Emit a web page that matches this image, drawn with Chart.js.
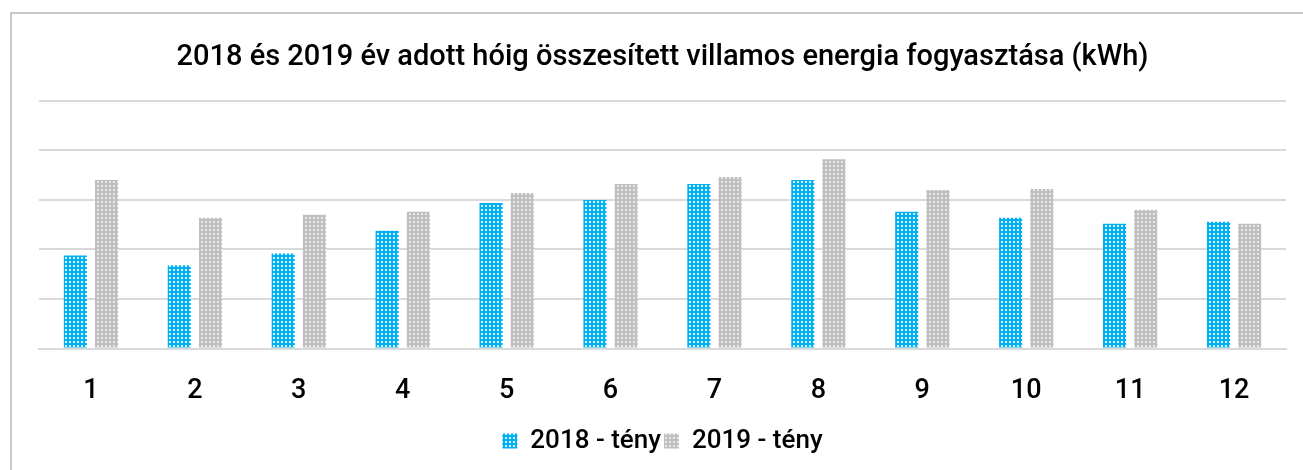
<!DOCTYPE html>
<html>
<head>
<meta charset="utf-8">
<script src="https://cdn.jsdelivr.net/npm/chart.js@4"></script>
<style>
  html, body { margin: 0; padding: 0; background: #fff; }
  body { width: 1303px; height: 470px; position: relative; overflow: hidden; }
  #frame {
    position: absolute; left: 10px; top: 12px; width: 1400px; height: 600px;
    border-left: 2px solid #c9c9c9; border-top: 2px solid #c9c9c9; box-sizing: border-box;
  }
  #wrap { position: absolute; left: 0; top: 0; width: 1303px; height: 470px; }
</style>
</head>
<body>
<div id="frame"></div>
<div id="wrap"><canvas id="chart" width="1303" height="470"></canvas></div>
<script>
// Hónapok
const months = ['1', '2', '3', '4', '5', '6', '7', '8', '9', '10', '11', '12'];
// Összesített fogyasztás (skála: rácsvonalak 50-enként)
const values2018 = [94, 84, 96, 119, 147, 150, 166, 170, 138, 132, 126, 128];
const values2019 = [170, 132, 135, 138, 157, 166, 173, 191, 160, 161, 140, 126];
const seriesNames = ['2018 - tény', '2019 - tény'];
const chartTitle = '2018 és 2019 év adott hóig összesített villamos energia fogyasztása (kWh)';

// Pöttyös minta az oszlopokhoz
const makePattern = (base, dot) => {
    const tile = document.createElement('canvas');
    tile.width = 4;
    tile.height = 4;
    const c = tile.getContext('2d');
    c.fillStyle = base;
    c.fillRect(0, 0, 4, 4);
    c.fillStyle = dot;
    c.fillRect(1, 1, 2, 2);
    return c.createPattern(tile, 'repeat');
};

const ctx = document.getElementById('chart').getContext('2d');
const bluePattern = makePattern('#00b0f0', 'rgba(255,255,255,0.85)');
const grayPattern = makePattern('#bfbfbf', 'rgba(235,235,235,0.9)');

const fontFamily = 'Roboto, "DejaVu Sans", sans-serif';

new Chart(ctx, {
    type: 'bar',
    data: {
        labels: months,
        datasets: [
            {
                label: seriesNames[0],
                data: values2018,
                backgroundColor: bluePattern,
                borderWidth: 0,
                categoryPercentage: 0.6,
                barPercentage: 0.74
            },
            {
                label: seriesNames[1],
                data: values2019,
                backgroundColor: grayPattern,
                borderWidth: 0,
                categoryPercentage: 0.6,
                barPercentage: 0.74
            }
        ]
    },
    options: {
        responsive: false,
        animation: false,
        layout: {
            padding: { left: 39, right: 17, top: 0, bottom: 6 }
        },
        plugins: {
            title: {
                display: true,
                text: chartTitle,
                color: '#000',
                font: { family: fontFamily, size: 29, weight: '500' },
                padding: { top: 40, bottom: 26 }
            },
            legend: {
                position: 'bottom',
                labels: {
                    color: '#000',
                    font: { family: fontFamily, size: 26, weight: '500' },
                    boxWidth: 15,
                    boxHeight: 15,
                    padding: 3
                }
            },
            tooltip: { enabled: false }
        },
        scales: {
            x: {
                grid: { display: false },
                border: { display: true, color: '#d9d9d9', width: 2 },
                ticks: {
                    color: '#000',
                    font: { family: fontFamily, size: 27, weight: '500' },
                    padding: 18
                }
            },
            y: {
                min: 0,
                max: 250,
                ticks: { display: false, stepSize: 50 },
                grid: { color: '#d9d9d9', lineWidth: 2, drawTicks: false },
                border: { display: false }
            }
        }
    }
});
</script>
</body>
</html>
